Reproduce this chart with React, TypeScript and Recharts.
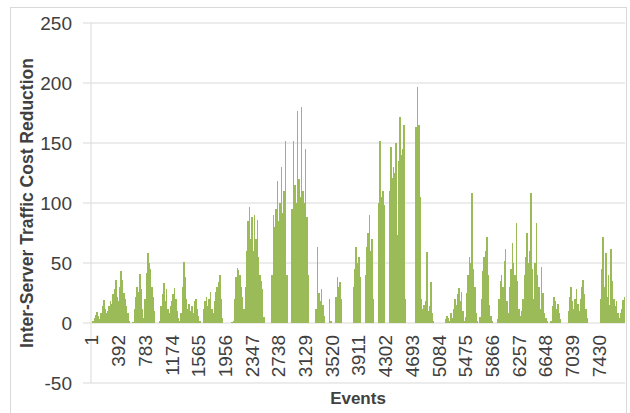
import React from 'react';
import { BarChart, Bar, XAxis, YAxis, CartesianGrid } from 'recharts';

// category labels shown on the x axis, one every 391 events
const TICK_LABELS = [
  1, 392, 783, 1174, 1565, 1956, 2347, 2738, 3129, 3520,
  3911, 4302, 4693, 5084, 5475, 5866, 6257, 6648, 7039, 7430,
];

const Y_TICKS = [-50, 0, 50, 100, 150, 200, 250];

// cost reduction, 20 groups of ~19.5 events between two labels
const COST_REDUCTION = [
  0, 2, 4, 7, 9, 6, 3, 8, 14, 19, 12, 8, 10, 14, 18, 16, 24, 28, 36, 22, // 1
  18, 30, 43, 36, 25, 20, 14, 8, 2, 0, 0, 1, 12, 22, 30, 26, 41, 28, 12, 4, // 392
  20, 42, 58, 50, 45, 30, 22, 10, 0, 0, 0, 2, 14, 24, 33, 18, 28, 12, 8, 14, // 783
  18, 24, 29, 20, 10, 4, 2, 8, 30, 51, 38, 20, 12, 16, 10, 14, 8, 18, 20, 12, // 1174
  6, 2, 0, 0, 12, 18, 22, 14, 20, 26, 12, 8, 18, 26, 30, 34, 40, 20, 4, 0, // 1565
  0, 0, 0, 0, 0, 1, 2, 20, 38, 46, 44, 40, 30, 22, 12, 30, 60, 85, 97, 70, // 1956
  88, 60, 90, 70, 86, 55, 40, 35, 28, 5, 0, 0, 0, 0, 0, 40, 90, 80, 95, 118, // 2347
  85, 100, 130, 92, 110, 152, 40, 0, 0, 0, 95, 152, 115, 100, 177, 120, 105, 180, 110, 100, // 2738
  145, 88, 40, 0, 0, 0, 0, 0, 12, 63, 25, 18, 28, 15, 6, 0, 0, 0, 20, 2, // 3129
  0, 0, 0, 22, 38, 30, 34, 20, 0, 0, 0, 0, 0, 0, 0, 0, 30, 45, 63, 50, // 3520
  55, 38, 0, 0, 0, 40, 63, 75, 90, 60, 70, 20, 0, 0, 0, 100, 152, 105, 110, 98, // 3911
  0, 0, 0, 110, 147, 121, 130, 125, 150, 73, 135, 172, 140, 145, 165, 20, 0, 0, 0, 0, // 4302
  0, 0, 0, 163, 197, 165, 105, 20, 12, 15, 18, 59, 10, 14, 34, 8, 2, 0, 0, 0, // 4693
  0, 0, 0, 0, 0, 3, 6, 4, 2, 8, 4, 12, 20, 15, 24, 29, 18, 26, 10, 2, // 5084
  5, 25, 40, 55, 50, 108, 45, 30, 8, 2, 0, 5, 20, 43, 55, 60, 72, 40, 15, 6, // 5475
  2, 0, 0, 0, 3, 20, 35, 40, 30, 52, 62, 18, 8, 30, 45, 67, 50, 40, 83, 35, // 5866
  12, 6, 10, 20, 40, 55, 75, 50, 60, 108, 45, 20, 50, 83, 40, 30, 12, 47, 25, 8, // 6257
  4, 2, 0, 0, 2, 14, 22, 18, 12, 16, 8, 3, 0, 0, 0, 0, 0, 10, 22, 30, // 6648
  18, 12, 20, 28, 16, 10, 20, 30, 36, 24, 12, 4, 0, 0, 0, 0, 0, 0, 0, 0, // 7039
  0, 20, 45, 72, 30, 58, 22, 40, 15, 62, 35, 20, 14, 18, 8, 4, 8, 12, 19, 22, // 7430
];

const BINS_PER_LABEL = 20;
const data = COST_REDUCTION.map((value, bin) => ({ bin, value }));

const FONT = '"Liberation Sans", Arial, sans-serif';
const TEXT = '#404040';
const GRID = '#d9d9d9';
const GREEN = '#9bbb59';

function EventTick({ x, payload }: any) {
  const label = TICK_LABELS[payload.value / BINS_PER_LABEL];
  if (label === undefined) return null;
  const top = 335;
  return (
    <text
      x={x}
      y={top}
      dy="0.36em"
      transform={`rotate(-90 ${x} ${top})`}
      textAnchor="end"
      fontSize={19}
      fontFamily={FONT}
      fill={TEXT}
    >
      {label}
    </text>
  );
}

function YTitle() {
  return (
    <text
      x={33}
      y={203}
      transform="rotate(-90 33 203)"
      textAnchor="middle"
      fontSize={17.5}
      fontWeight="bold"
      fontFamily={FONT}
      fill={TEXT}
    >
      Inter-Server Traffic Cost Reduction
    </text>
  );
}

function XTitle() {
  return (
    <text x={358} y={404} textAnchor="middle" fontSize={17} fontWeight="bold" fontFamily={FONT} fill={TEXT}>
      Events
    </text>
  );
}

// thin bars get a little overlap so neighbours leave no white seams
function ThinBar({ x, y, width, height }: any) {
  if (!height) return null;
  return <rect x={x} y={y} width={width + 0.6} height={height} fill={GREEN} shapeRendering="crispEdges" />;
}

export default function App() {
  return (
    <div style={{ position: 'absolute', left: 0, top: 0, width: 630, height: 413, background: '#fff' }}>
      <div
        style={{
          position: 'absolute',
          left: 10,
          top: 7,
          width: 617,
          height: 410,
          border: `1px solid ${GRID}`,
          boxSizing: 'border-box',
        }}
      />
      <div style={{ position: 'absolute', left: 0, top: 0 }}>
        <BarChart
          width={630}
          height={413}
          data={data}
          margin={{ top: 23, right: 5, bottom: 0, left: 0 }}
          barCategoryGap={0}
          barGap={0}
        >
          <CartesianGrid vertical={false} stroke={GRID} />
          <XAxis
            dataKey="bin"
            interval={BINS_PER_LABEL - 1}
            height={30}
            axisLine={false}
            tickLine={false}
            tick={<EventTick />}
            label={<XTitle />}
          />
          <YAxis
            width={91}
            domain={[-50, 250]}
            ticks={Y_TICKS}
            interval={0}
            axisLine={{ stroke: GRID }}
            tickLine={{ stroke: GRID }}
            tickSize={8}
            tickMargin={11}
            tick={{ fontSize: 19, fontFamily: FONT, fill: TEXT }}
            label={<YTitle />}
          />
          <Bar dataKey="value" fill={GREEN} shape={<ThinBar />} isAnimationActive={false} />
        </BarChart>
      </div>
    </div>
  );
}
